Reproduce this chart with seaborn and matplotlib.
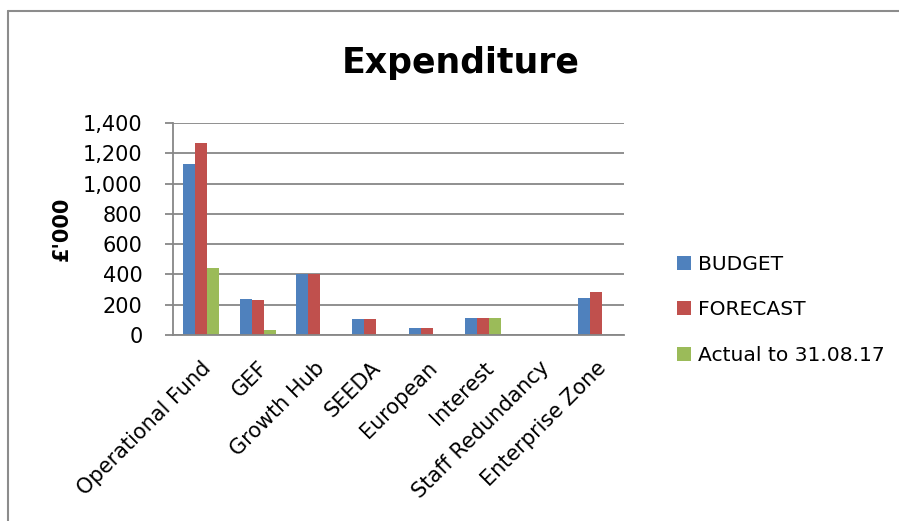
import numpy as np
import pandas as pd
import matplotlib
matplotlib.use("Agg")
import matplotlib.pyplot as plt
import seaborn as sns
from matplotlib.lines import Line2D
from matplotlib.ticker import FuncFormatter

# values (£'000)
categories = ["Operational Fund", "GEF", "Growth Hub", "SEEDA", "European",
              "Interest", "Staff Redundancy", "Enterprise Zone"]
budget = [1130, 240, 400, 105, 45, 115, 0, 245]
forecast = [1270, 230, 400, 105, 45, 115, 0, 285]
actual = [440, 35, 0, 0, 0, 115, 0, 0]
series = ["BUDGET", "FORECAST", "Actual to 31.08.17"]
colours = ["#4F81BD", "#C0504D", "#9BBB59"]

df = pd.DataFrame({"Category": categories * 3,
                   "Series": np.repeat(series, len(categories)),
                   "Value": budget + forecast + actual})

sns.set_style("white")
plt.rcParams["font.family"] = ["DejaVu Sans"]
plt.rcParams["text.color"] = "black"
plt.rcParams["axes.labelcolor"] = "black"
plt.rcParams["xtick.color"] = "black"
plt.rcParams["ytick.color"] = "black"

fig = plt.figure(figsize=(8.99, 5.21), dpi=100)
ax = fig.add_axes([0.1924, 0.357, 0.502, 0.407])

sns.barplot(data=df, x="Category", y="Value", hue="Series",
            palette=colours, width=0.64, ax=ax, errorbar=None,
            saturation=1, linewidth=0)

ax.set_ylim(0, 1400)
ax.set_yticks(np.arange(0, 1401, 200))
ax.yaxis.set_major_formatter(FuncFormatter(lambda v, p: f"{int(v):,}"))
ax.grid(axis="y", color="#878787", linewidth=1.3)
ax.set_axisbelow(True)
for s in ["top", "right"]:
    ax.spines[s].set_visible(False)
for s in ["left", "bottom"]:
    ax.spines[s].set_color("#878787")
    ax.spines[s].set_linewidth(1.3)
ax.tick_params(axis="y", left=True, length=6, width=1.3, color="#878787",
               labelcolor="black", labelsize=15, pad=16)
ax.tick_params(axis="x", bottom=False, labelcolor="black", labelsize=15,
               pad=13)
plt.setp(ax.get_xticklabels(), rotation=45, ha="right",
         rotation_mode="anchor")
ax.set_xlabel("")
ax.set_ylabel("£'000", fontsize=15, fontweight="bold", labelpad=8,
              color="black")

fig.text(0.512, 0.88, "Expenditure", ha="center", va="center",
         fontsize=25, fontweight="bold", color="black")

handles, labels = ax.get_legend_handles_labels()
leg = ax.legend(handles, labels, loc="center left",
                bbox_to_anchor=(0.733, 0.405), bbox_transform=fig.transFigure,
                frameon=False, fontsize=14.6, handlelength=0.68,
                handleheight=0.68, handletextpad=0.36, labelspacing=1.3)
for t in leg.get_texts():
    t.set_color("black")

# chart frame, only top and left edges fall inside the picture
fig.add_artist(Line2D([0.009, 1.0], [0.979, 0.979], color="#8c8c8c",
                      linewidth=1.5, transform=fig.transFigure))
fig.add_artist(Line2D([0.009, 0.009], [0.0, 0.979], color="#8c8c8c",
                      linewidth=1.5, transform=fig.transFigure))

fig.savefig("out.png", dpi=100, facecolor="white")
